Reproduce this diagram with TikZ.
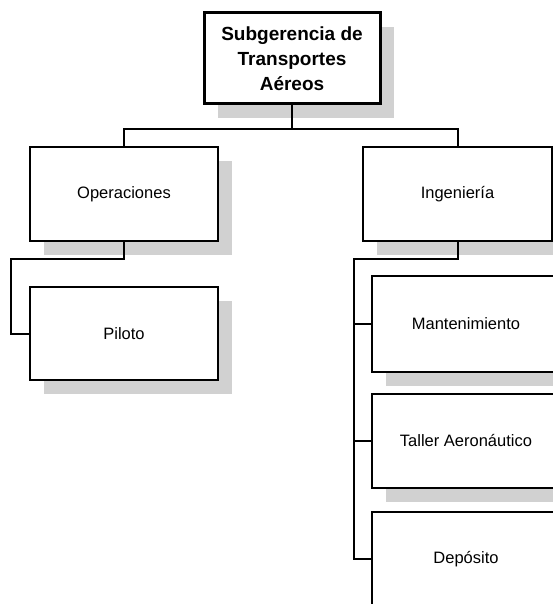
\documentclass[tikz,border=0pt]{standalone}
\usepackage{fontspec}
\setmainfont{Liberation Sans}
\usetikzlibrary{shadows}

\begin{document}
\begin{tikzpicture}[x=1pt,y=-1pt,
    box/.style={draw, line width=2pt, fill=white, minimum width=188pt, minimum height=94pt,
        inner sep=0pt, font=\fontsize{16.5}{19}\selectfont,
        drop shadow={shadow xshift=14pt, shadow yshift=-14pt, fill=black!18, opacity=1}},
    headbox/.style={box, line width=3pt, minimum width=176pt, minimum height=91pt,
        align=center, font=\fontsize{19}{25}\selectfont\bfseries},
    link/.style={line width=2pt}]
    % Page frame
    \useasboundingbox (0,0) rectangle (553,604);

    % Head of the chart
    \node[headbox] (sub) at (292,58.5) {Subgerencia de\\Transportes\\A\'ereos};

    % Left branch
    \node[box] (ops) at (124,194) {Operaciones};
    \node[box, minimum height=93pt] (pil) at (124,333.5) {Piloto};

    % Right branch
    \node[box, minimum width=189pt] (ing) at (457.5,194) {Ingenier\'ia};
    \node[box, minimum height=96pt] (mant) at (466,324) {Mantenimiento};
    \node[box] (tall) at (466,441) {Taller Aeron\'autico};
    \node[box] (dep) at (466,559) {Dep\'osito};

    % Bus under the head
    \draw[link] (ops.north) -- ++(0,-17) coordinate (bus) -| (ing.north);
    \draw[link] (sub.south) -- (sub.south |- bus);

    % Operaciones to Piloto
    \draw[link] (ops.south) -- ++(0,17) -| ([xshift=-18pt]pil.west) -- (pil.west);

    % Ingenieria to its units
    \draw[link] (ing.south) -- ++(0,17) -| ([xshift=-17pt]dep.west) -- (dep.west);
    \draw[link] ([xshift=-17pt]mant.west) -- (mant.west);
    \draw[link] ([xshift=-17pt]tall.west) -- (tall.west);
\end{tikzpicture}
\end{document}
